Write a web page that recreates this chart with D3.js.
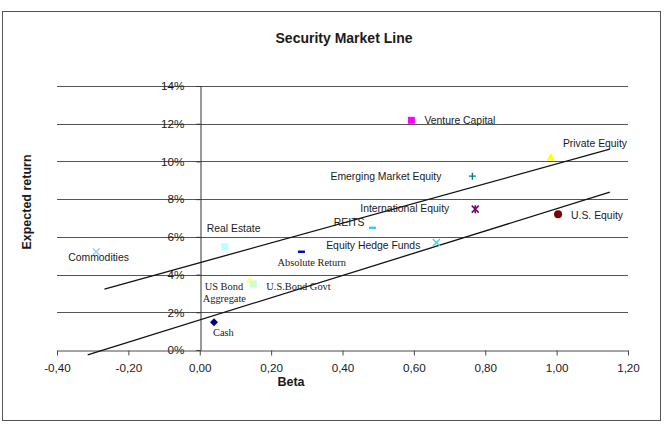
<!DOCTYPE html>
<html>
<head>
<meta charset="utf-8">
<script src="https://cdn.jsdelivr.net/npm/d3@7"></script>
<style>
  body { margin: 0; background: #fff; }
  svg text { font-family: "Liberation Sans", Arial, sans-serif; fill: #1a1a1a; }
</style>
</head>
<body>
<svg id="chart"></svg>
<script>
// data
const assets = ["Commodities", "Real Estate", "Cash", "US Bond Aggregate", "U.S.Bond Govt",
    "Absolute Return", "REITS", "Equity Hedge Funds", "International Equity",
    "Emerging Market Equity", "Venture Capital", "Private Equity", "U.S. Equity"];
const betas = [-0.29, 0.07, 0.04, 0.14, 0.15, 0.285, 0.484, 0.663, 0.772, 0.764, 0.593, 0.984, 1.004];
const returns = [5.21, 5.47, 1.47, 3.71, 3.50, 5.21, 6.48, 5.70, 7.47, 9.22, 12.18, 10.21, 7.20];

// the two security market lines, start and end
const smlBetas = [[-0.267, 1.149], [-0.314, 1.149]];
const smlReturns = [[3.23, 10.65], [-0.26, 8.37]];

const xTicks = [-0.4, -0.2, 0, 0.2, 0.4, 0.6, 0.8, 1.0, 1.2];
const yTicks = [0, 2, 4, 6, 8, 10, 12, 14];

// marker look + label placement, per asset
const looks = {
    "Commodities":            {shape: "x", color: "#99ccff", lines: ["Commodities"], dx: -28, dy: 6, anchor: "start"},
    "Real Estate":            {shape: "square", color: "#b8ffff", lines: ["Real Estate"], dx: -18, dy: -18, anchor: "start"},
    "Cash":                   {shape: "diamond", color: "#000080", lines: ["Cash"], dx: -1, dy: 10, anchor: "start", serif: true},
    "US Bond Aggregate":      {shape: "triangle", color: "#ffff99", lines: ["US Bond", "Aggregate"], dx: -45, dy: 6, anchor: "start", serif: true},
    "U.S.Bond Govt":          {shape: "square", color: "#ccffcc", lines: ["U.S.Bond Govt"], dx: 13, dy: 2, anchor: "start", serif: true},
    "Absolute Return":        {shape: "dash", color: "#0000cc", lines: ["Absolute Return"], dx: -24, dy: 11, anchor: "start", serif: true},
    "REITS":                  {shape: "dash", color: "#33ccee", lines: ["REITS"], dx: -8, dy: -5, anchor: "end"},
    "Equity Hedge Funds":     {shape: "x", color: "#33ddee", lines: ["Equity Hedge Funds"], dx: -16, dy: 3, anchor: "end"},
    "International Equity":   {shape: "star", color: "#800080", lines: ["International Equity"], dx: -26, dy: -1, anchor: "end"},
    "Emerging Market Equity": {shape: "plus", color: "#008080", lines: ["Emerging Market Equity"], dx: -31, dy: 0, anchor: "end"},
    "Venture Capital":        {shape: "square", color: "#ff00ff", lines: ["Venture Capital"], dx: 13, dy: 0, anchor: "start"},
    "Private Equity":         {shape: "triangle", color: "#ffff00", lines: ["Private Equity"], dx: 12, dy: -14, anchor: "start"},
    "U.S. Equity":            {shape: "circle", color: "#800000", lines: ["U.S. Equity"], dx: 13, dy: 1, anchor: "start"}
};

const width = 665, height = 426;
const svg = d3.select("#chart").attr("width", width).attr("height", height);

// outer frame
svg.append("rect")
    .attr("x", 2.5).attr("y", 11.5)
    .attr("width", 658).attr("height", 409)
    .attr("fill", "#fff").attr("stroke", "#555").attr("stroke-width", 1);

const x = d3.scaleLinear().domain([-0.4, 1.2]).range([57, 628]);
const y = d3.scaleLinear().domain([0, 14]).range([350, 86]);

// horizontal gridlines
svg.append("g").selectAll("line")
    .data(yTicks.filter(d => d > 0))
    .join("line")
    .attr("x1", x(-0.4)).attr("x2", x(1.2))
    .attr("y1", d => Math.round(y(d)) + 0.5).attr("y2", d => Math.round(y(d)) + 0.5)
    .attr("stroke", "#555").attr("stroke-width", 1);

// y axis sits at beta = 0
const yAxis = svg.append("g")
    .attr("transform", `translate(${Math.round(x(0)) + 0.5},0)`)
    .call(d3.axisLeft(y).tickValues(yTicks).tickFormat(d => d + "%").tickSize(4).tickPadding(12));
yAxis.select(".domain").attr("stroke", "#333");
yAxis.selectAll(".tick line").attr("stroke", "#333");
yAxis.selectAll("text").attr("font-size", 11.7).attr("fill", "#1a1a1a")
    .attr("font-family", "Liberation Sans, Arial, sans-serif");

// x axis sits at 0%
const xAxis = svg.append("g")
    .attr("transform", `translate(0,${Math.round(y(0)) + 0.5})`)
    .call(d3.axisBottom(x).tickValues(xTicks)
        .tickFormat(d => d3.format(".2f")(d).replace(".", ",").replace("−", "-"))
        .tickSize(5).tickPadding(8).tickSizeOuter(0));
xAxis.select(".domain").attr("stroke", "#4a4a4a");
xAxis.selectAll(".tick line").attr("stroke", "#4a4a4a");
xAxis.selectAll("text").attr("font-size", 11.7).attr("fill", "#1a1a1a")
    .attr("font-family", "Liberation Sans, Arial, sans-serif");

// security market lines
smlBetas.forEach(function(b, i) {
    svg.append("line")
        .attr("x1", x(b[0])).attr("y1", y(smlReturns[i][0]))
        .attr("x2", x(b[1])).attr("y2", y(smlReturns[i][1]))
        .attr("stroke", "#111").attr("stroke-width", 1.3);
});

function drawMarker(g, shape, color) {
    if (shape === "square") {
        g.append("rect").attr("x", -3.5).attr("y", -3.5).attr("width", 7).attr("height", 7).attr("fill", color);
    } else if (shape === "diamond") {
        g.append("path").attr("d", "M0,-4L4,0L0,4L-4,0Z").attr("fill", color);
    } else if (shape === "triangle") {
        g.append("path").attr("d", "M0,-4.5L4,3L-4,3Z").attr("fill", color);
    } else if (shape === "circle") {
        g.append("circle").attr("r", 4).attr("fill", color);
    } else if (shape === "dash") {
        g.append("rect").attr("x", -3.5).attr("y", -1.2).attr("width", 7).attr("height", 2.4).attr("fill", color);
    } else if (shape === "x") {
        g.append("path").attr("d", "M-3.5,-3.5L3.5,3.5M3.5,-3.5L-3.5,3.5")
            .attr("stroke", color).attr("stroke-width", 1.4).attr("fill", "none");
    } else if (shape === "plus") {
        g.append("path").attr("d", "M-3.5,0L3.5,0M0,-3.5L0,3.5")
            .attr("stroke", color).attr("stroke-width", 1.4).attr("fill", "none");
    } else if (shape === "star") {
        // excel style asterisk: an x with a vertical stroke through it
        g.append("path").attr("d", "M-3.5,-3.5L3.5,3.5M3.5,-3.5L-3.5,3.5M0,-4L0,4")
            .attr("stroke", color).attr("stroke-width", 1.6).attr("fill", "none");
    }
}

// points + labels
assets.forEach(function(name, i) {
    const look = looks[name];
    const px = x(betas[i]), py = y(returns[i]);
    const g = svg.append("g").attr("transform", `translate(${px},${py})`);
    drawMarker(g, look.shape, look.color);

    const label = svg.append("text")
        .attr("y", py + look.dy)
        .attr("text-anchor", look.anchor)
        .attr("font-size", 10.4);
    if (look.serif) label.style("font-family", "'Liberation Serif', 'Times New Roman', serif");
    look.lines.forEach(function(t, k) {
        label.append("tspan")
            .attr("x", px + look.dx + (k > 0 ? -2 : 0))
            .attr("dy", k === 0 ? "0.35em" : "12")
            .text(t);
    });
});

// titles
svg.append("text")
    .attr("x", 344).attr("y", 43)
    .attr("text-anchor", "middle")
    .attr("font-size", 14).attr("font-weight", "bold")
    .text("Security Market Line");

svg.append("text")
    .attr("x", 291).attr("y", 386)
    .attr("text-anchor", "middle")
    .attr("font-size", 12.5).attr("font-weight", "bold")
    .text("Beta");

svg.append("text")
    .attr("transform", "translate(31,202) rotate(-90)")
    .attr("text-anchor", "middle")
    .attr("font-size", 12.5).attr("font-weight", "bold")
    .text("Expected return");
</script>
</body>
</html>
